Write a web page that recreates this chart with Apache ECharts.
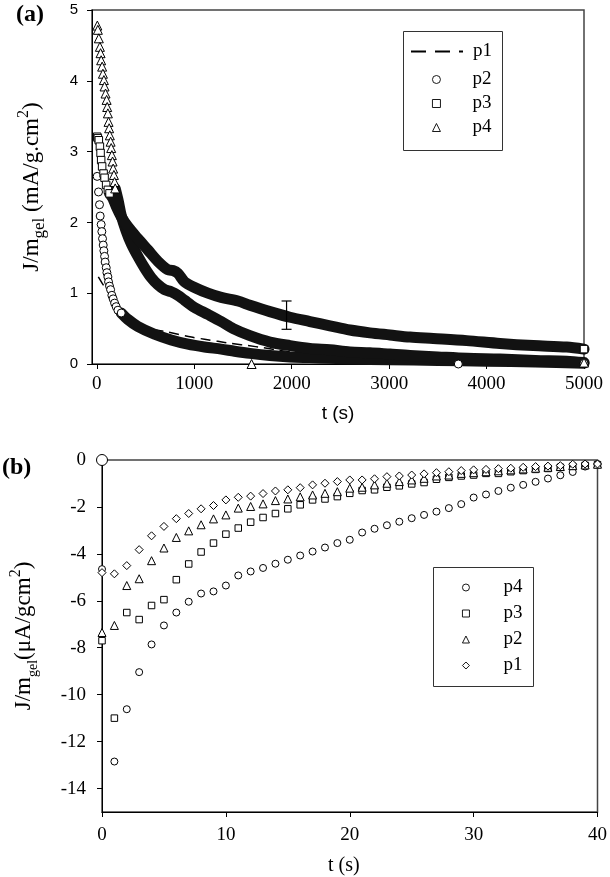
<!DOCTYPE html>
<html><head><meta charset="utf-8">
<script src="https://cdn.jsdelivr.net/npm/echarts@6/dist/echarts.min.js"></script>
<style>html,body{margin:0;padding:0;background:#fff}#c{width:610px;height:877px}</style>
</head><body><div id="c"></div>
<script>
// ---------- Panel (a) ----------
const aXTicks = [0, 1000, 2000, 3000, 4000, 5000];
const aYTicks = [0, 1, 2, 3, 4, 5];
const p1Line = [[15,1.23],[55,1.14],[100,1.05],[140,1.0],[180,0.86],[220,0.77],[280,0.68],[350,0.6],[420,0.56],[500,0.52],[600,0.48],[695,0.46],[832,0.42],[969,0.38],[1105,0.35],[1242,0.32],[1379,0.29],[1550,0.26],[1708,0.23],[1845,0.2],[2000,0.17],[2400,0.13],[3000,0.1],[4000,0.07],[5000,0.05]];
const p2Head = [[3,2.65],[17,2.43],[27,2.25],[34,2.09],[44,1.97],[51,1.87],[58,1.77],[65,1.68],[72,1.6],[79,1.52],[85,1.44],[96,1.36],[103,1.29],[113,1.23],[120,1.16],[130,1.1],[141,1.05],[154,0.97],[167,0.92],[182,0.86],[198,0.81],[216,0.76],[250,0.72]];
const p2Band = [[250,0.72],[318,0.63],[421,0.53],[592,0.42],[763,0.34],[934,0.28],[1105,0.24],[1276,0.21],[1413,0.18],[1571,0.15],[1776,0.12],[1982,0.1],[2187,0.09],[2392,0.08],[2598,0.07],[3008,0.06],[3500,0.05],[4000,0.04],[4500,0.03],[5000,0.01]];
const p3Head = [[3,3.21],[10,3.19],[20,3.16],[31,3.07],[38,2.98],[44,2.88],[54,2.79],[69,2.69],[79,2.63],[95,2.53],[113,2.46],[130,2.41]];
const p3Band = [[130,2.41],[164,2.34],[200,2.22],[250,2.08],[318,1.94],[421,1.77],[524,1.61],[626,1.45],[729,1.33],[780,1.32],[832,1.28],[900,1.16],[1003,1.08],[1140,1.0],[1276,0.94],[1448,0.89],[1571,0.83],[1776,0.74],[1982,0.66],[2187,0.6],[2392,0.54],[2598,0.48],[2803,0.44],[3008,0.41],[3214,0.38],[3453,0.36],[3796,0.33],[4138,0.29],[4480,0.26],[4822,0.24],[5000,0.21]];
const p4Head = [[5,4.78],[10,4.72],[20,4.6],[31,4.48],[38,4.39],[44,4.29],[54,4.2],[62,4.1],[72,4.01],[79,3.92],[89,3.82],[100,3.73],[106,3.63],[113,3.54],[120,3.42],[126,3.33],[133,3.23],[141,3.14],[147,3.05],[154,2.95],[161,2.86],[167,2.76],[175,2.67],[182,2.57],[188,2.48]];
const p4Band = [[188,2.48],[220,2.3],[250,2.1],[300,1.88],[353,1.7],[421,1.52],[489,1.36],[558,1.22],[626,1.12],[695,1.05],[763,1.02],[832,0.97],[900,0.9],[1000,0.8],[1140,0.7],[1276,0.6],[1400,0.5],[1571,0.4],[1776,0.31],[1982,0.26],[2187,0.22],[2392,0.2],[2598,0.17],[2803,0.16],[3008,0.14],[3214,0.12],[3500,0.1],[3800,0.08],[4138,0.07],[4500,0.05],[4822,0.04],[5000,0.02]];
const p2Stray = [[3710, 0.0]];
const p4Stray = [[1588, 0.0]];
const p3ErrorBar = [[1947, 0.49, 0.89]];

// ---------- Panel (b) ----------
const bXTicks = [0, 10, 20, 30, 40];
const bYTicks = [-14, -12, -10, -8, -6, -4, -2, 0];
const bTimes = [0,1,2,3,4,5,6,7,8,9,10,11,12,13,14,15,16,17,18,19,20,21,22,23,24,25,26,27,28,29,30,31,32,33,34,35,36,37,38,39,40];
const bP1 = [-4.8,-4.85,-4.5,-3.82,-3.23,-2.83,-2.5,-2.28,-2.08,-1.94,-1.7,-1.59,-1.54,-1.43,-1.32,-1.27,-1.18,-1.06,-0.99,-0.92,-0.85,-0.85,-0.8,-0.71,-0.68,-0.64,-0.59,-0.54,-0.5,-0.45,-0.42,-0.4,-0.37,-0.35,-0.31,-0.28,-0.26,-0.24,-0.18,-0.17,-0.17];
const bP2 = [-7.35,-7.05,-5.35,-5.06,-4.29,-3.75,-3.3,-3.02,-2.76,-2.51,-2.34,-2.05,-1.98,-1.87,-1.73,-1.66,-1.57,-1.49,-1.42,-1.35,-1.2,-1.16,-1.06,-0.99,-0.92,-0.85,-0.78,-0.68,-0.64,-0.57,-0.54,-0.5,-0.46,-0.42,-0.38,-0.35,-0.31,-0.28,-0.24,-0.21,-0.18];
const bP3 = [-7.7,-11.0,-6.5,-6.8,-6.2,-5.95,-5.1,-4.43,-3.92,-3.54,-3.16,-2.9,-2.65,-2.45,-2.28,-2.08,-1.91,-1.7,-1.66,-1.56,-1.42,-1.3,-1.27,-1.16,-1.1,-1.02,-0.96,-0.82,-0.74,-0.68,-0.64,-0.57,-0.57,-0.5,-0.45,-0.4,-0.36,-0.31,-0.27,-0.23,-0.2];
const bP4 = [-4.65,-12.85,-10.62,-9.04,-7.86,-7.05,-6.5,-6.04,-5.69,-5.6,-5.35,-4.92,-4.75,-4.6,-4.42,-4.25,-4.07,-3.9,-3.73,-3.54,-3.4,-3.09,-2.93,-2.78,-2.63,-2.48,-2.34,-2.2,-2.05,-1.88,-1.6,-1.47,-1.32,-1.18,-1.06,-0.93,-0.79,-0.65,-0.51,-0.28,-0.17];
const bP4Origin = [[0, 0]];

const SERIF = 'Liberation Serif';
const SANS = 'Liberation Sans';
const zip = (xs, ys) => xs.map((x, i) => [x, ys[i]]);
const lastOf = a => [a[a.length - 1]];
const plain = v => String(v);

const openMark = (name, symbol, size, data, xi, z) => ({
  name, type: 'scatter', xAxisIndex: xi, yAxisIndex: xi, symbol, symbolSize: size, data, z: z || 5,
  itemStyle: { color: '#fff', borderColor: '#000', borderWidth: 1, opacity: 1 }, emphasis: { disabled: true }
});
const band = (name, data) => ({
  name, type: 'line', xAxisIndex: 0, yAxisIndex: 0, data, showSymbol: false, symbol: 'none', smooth: 0.3, z: 3,
  lineStyle: { color: '#121212', width: 11, cap: 'round', join: 'round' }, emphasis: { disabled: true }
});

const nrm = { fontFamily: SERIF, fontSize: 23, lineHeight: 32, color: '#000' };
const sub = { fontFamily: SERIF, fontSize: 17, lineHeight: 17, verticalAlign: 'bottom', color: '#000' };
const sup = { fontFamily: SERIF, fontSize: 16, lineHeight: 16, verticalAlign: 'top', color: '#000' };
const legText = { fontFamily: SERIF, fontSize: 19, lineHeight: 19, color: '#000' };
const legIcon = { color: '#fff', borderColor: '#000', borderWidth: 0.9 };

const option = {
  animation: false,
  backgroundColor: '#fff',
  grid: [
    { left: 92, top: 10, width: 492, height: 354, show: true, borderColor: '#444', borderWidth: 1.5, backgroundColor: 'transparent' },
    { left: 92, top: 460, width: 508, height: 353, show: true, borderColor: '#444', borderWidth: 1.5, backgroundColor: 'transparent' }
  ],
  xAxis: [
    { type: 'value', gridIndex: 0, min: -50, max: 5000, splitLine: { show: false },
      axisLine: { onZero: false, lineStyle: { color: '#000', width: 1 } },
      axisTick: { customValues: aXTicks, length: 5, lineStyle: { color: '#000' } },
      axisLabel: { customValues: aXTicks, formatter: plain, fontFamily: SERIF, fontSize: 19, color: '#000', margin: 11 },
      name: 't (s)', nameLocation: 'middle', nameGap: 40, nameTextStyle: { fontFamily: SANS, fontSize: 19, color: '#000' } },
    { type: 'value', gridIndex: 1, min: 0, max: 40, splitLine: { show: false },
      axisLine: { onZero: false, lineStyle: { color: '#000', width: 1 } },
      axisTick: { customValues: bXTicks, length: 5, lineStyle: { color: '#000' } },
      axisLabel: { customValues: bXTicks, formatter: plain, fontFamily: SERIF, fontSize: 19, color: '#000', margin: 14 },
      name: 't (s)', nameLocation: 'middle', nameGap: 44, nameTextStyle: { fontFamily: SERIF, fontSize: 20, color: '#000', padding: [0, 12, 0, 0] } }
  ],
  yAxis: [
    { type: 'value', gridIndex: 0, min: 0, max: 5, splitLine: { show: false },
      axisLine: { onZero: false, lineStyle: { color: '#000', width: 1 } },
      axisTick: { customValues: aYTicks, length: 5, lineStyle: { color: '#000' } },
      axisLabel: { customValues: aYTicks, formatter: plain, fontFamily: SANS, fontSize: 15, color: '#000', margin: 14 },
      name: '{n|J/m}{s|gel}{n| (mA/g.cm}{p|2}{n|)}', nameLocation: 'middle', nameGap: 44,
      nameTextStyle: { rich: { n: nrm, s: sub, p: sup } } },
    { type: 'value', gridIndex: 1, min: -15, max: 0, splitLine: { show: false },
      axisLine: { onZero: false, lineStyle: { color: '#000', width: 1 } },
      axisTick: { customValues: bYTicks, length: 5, lineStyle: { color: '#000' } },
      axisLabel: { customValues: bYTicks, formatter: plain, fontFamily: SERIF, fontSize: 19, color: '#000', margin: 16 },
      name: '{n|J/m}{s|gel}{n|(μA/gcm}{p|2}{n|)}', nameLocation: 'middle', nameGap: 62,
      nameTextStyle: { rich: { n: nrm, s: { ...sub, fontSize: 14, lineHeight: 14 }, p: sup } } }
  ],
  legend: [
    { left: 410, top: 42, orient: 'vertical', padding: 0, itemWidth: 52, itemHeight: 4, selectedMode: false,
      textStyle: { ...legText, padding: [0, 0, 0, 5] },
      data: [{ name: 'p1', itemStyle: { color: '#000', opacity: 0 }, lineStyle: { width: 2, type: [15, 9], color: '#000' } }] },
    { left: 432, top: 70, orient: 'vertical', padding: 0, itemGap: 5, itemWidth: 8, itemHeight: 8, selectedMode: false,
      itemStyle: legIcon,
      textStyle: { ...legText, padding: [0, 0, 0, 27] },
      data: ['p2', 'p3', 'p4'] },
    { left: 462, top: 578, orient: 'vertical', padding: 0, itemGap: 7, itemWidth: 7, itemHeight: 7, selectedMode: false,
      itemStyle: legIcon,
      formatter: n => n.replace('b-', ''),
      textStyle: { ...legText, padding: [0, 0, 0, 29] },
      data: ['b-p4', 'b-p3', 'b-p2', 'b-p1'] }
  ],
  graphic: [
    { type: 'rect', shape: { x: 403.5, y: 31.5, width: 99, height: 119 }, style: { fill: 'none', stroke: '#333', lineWidth: 1 }, z: 10 },
    { type: 'rect', shape: { x: 433.5, y: 567.5, width: 100, height: 119 }, style: { fill: 'none', stroke: '#333', lineWidth: 1 }, z: 10 },
    { type: 'text', left: 16, top: 3, style: { text: '(a)', font: 'bold 24px "Liberation Serif"', fill: '#000' } },
    { type: 'text', left: 2, top: 456, style: { text: '(b)', font: 'bold 24px "Liberation Serif"', fill: '#000' } }
  ],
  series: [
    { name: 'p1', type: 'line', xAxisIndex: 0, yAxisIndex: 0, data: p1Line, showSymbol: false, symbol: 'none', smooth: 0.3, z: 2,
      itemStyle: { color: '#000' },
      lineStyle: { color: '#000', width: 1.5, type: [10, 6] }, emphasis: { disabled: true } },
    band('p2-band', p2Band),
    band('p4-band', p4Band),
    band('p3-band', p3Band),
    openMark('p2', 'circle', 8, p2Head.concat(lastOf(p2Band), p2Stray), 0, 6),
    openMark('p3', 'rect', 7.5, p3Head.concat(lastOf(p3Band)), 0, 6),
    openMark('p4', 'triangle', 9, p4Head.concat(lastOf(p4Band), p4Stray), 0, 6),
    { name: 'p3-err', type: 'custom', xAxisIndex: 0, yAxisIndex: 0, data: p3ErrorBar, z: 7,
      encode: { x: 0, y: [1, 2] },
      renderItem: (params, api) => {
        const lo = api.coord([api.value(0), api.value(1)]);
        const hi = api.coord([api.value(0), api.value(2)]);
        const st = { stroke: '#000', lineWidth: 1.2 };
        return { type: 'group', children: [
          { type: 'line', shape: { x1: lo[0], y1: lo[1], x2: hi[0], y2: hi[1] }, style: st },
          { type: 'line', shape: { x1: lo[0] - 5, y1: lo[1], x2: lo[0] + 5, y2: lo[1] }, style: st },
          { type: 'line', shape: { x1: hi[0] - 5, y1: hi[1], x2: hi[0] + 5, y2: hi[1] }, style: st }
        ] };
      } },
    openMark('b-p4', 'circle', 7, zip(bTimes, bP4), 1),
    openMark('b-p3', 'rect', 6.5, zip(bTimes, bP3), 1),
    openMark('b-p2', 'triangle', 8, zip(bTimes, bP2), 1),
    openMark('b-p1', 'diamond', 8, zip(bTimes, bP1), 1),
    Object.assign(openMark('b-origin', 'circle', 11, bP4Origin, 1), { clip: false })
  ]
};
const chart = echarts.init(document.getElementById('c'), null, { renderer: 'canvas' });
chart.setOption(option);
</script></body></html>
